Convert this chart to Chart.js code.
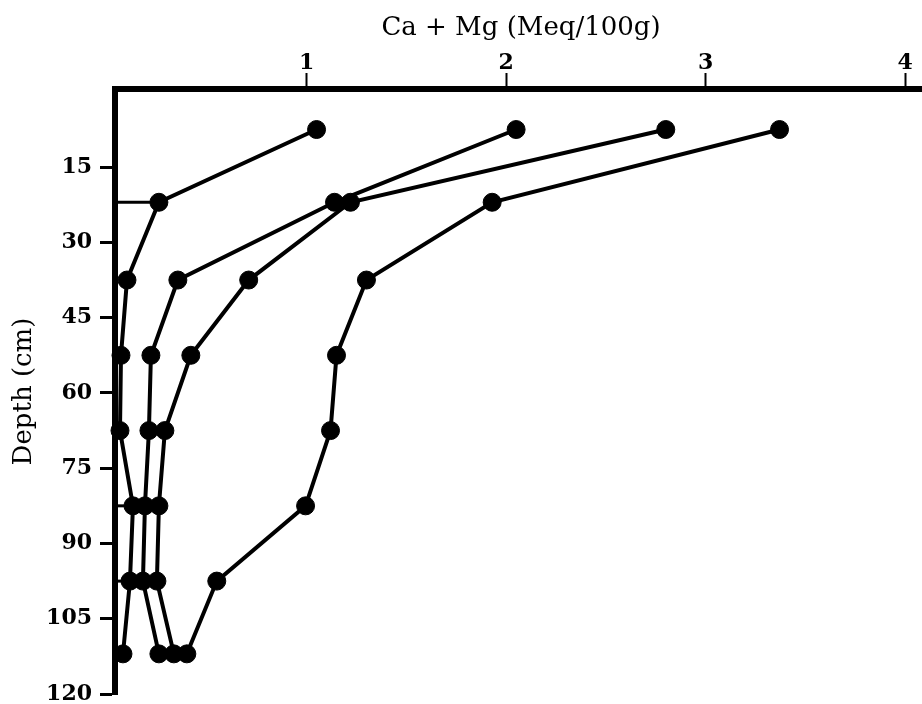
<!DOCTYPE html>
<html lang="en">
<head>
<meta charset="UTF-8" />
<title>Ca + Mg by depth</title>
<script src="https://cdn.jsdelivr.net/npm/chart.js"></script>
<style>
  body { margin: 0; background: #fff; }
  #wrap { width: 922px; height: 704px; overflow: hidden; }
</style>
</head>
<body>
<div id="wrap"><canvas id="profile" width="937" height="704"></canvas></div>
<script>
  // sample depths (cm) and Ca + Mg (meq/100g) for the four profiles
  const depths = [7.5, 22, 37.5, 52.5, 67.5, 82.5, 97.5, 112];
  const siteA = [1.05, 0.26, 0.10, 0.07, 0.065, 0.13, 0.115, 0.08];
  const siteB = [2.05, 1.14, 0.355, 0.22, 0.21, 0.19, 0.18, 0.26];
  const siteC = [2.80, 1.22, 0.71, 0.42, 0.29, 0.26, 0.25, 0.335];
  const siteD = [3.37, 1.93, 1.30, 1.15, 1.12, 0.995, 0.55, 0.40];

  // short horizontal strokes from the axis to the first profile
  const guideDepths = [22, 82.5, 97.5];
  const guideEnds = [0.26, 0.13, 0.115];

  const xTicks = [1, 2, 3, 4];
  const yTicks = [15, 30, 45, 60, 75, 90, 105, 120];

  function profile(values) {
    return values.map((v, i) => ({ x: v, y: depths[i] }));
  }

  const datasets = [siteA, siteB, siteC, siteD].map(v => ({
    data: profile(v),
    showLine: true,
    borderColor: '#000',
    backgroundColor: '#000',
    borderWidth: 4,
    pointRadius: 9,
    pointBorderWidth: 1,
    pointHoverRadius: 9,
    clip: false
  }));

  guideDepths.forEach((d, i) => {
    datasets.push({
      data: [{ x: 0.04, y: d }, { x: guideEnds[i], y: d }],
      showLine: true,
      borderColor: '#000',
      borderWidth: 3,
      pointRadius: 0
    });
  });

  const tickFont = { family: 'DejaVu Serif', weight: 'bold', size: 22 };
  const titleFont = { family: 'DejaVu Serif', size: 26 };

  new Chart(document.getElementById('profile'), {
    type: 'scatter',
    data: { datasets: datasets },
    options: {
      responsive: false,
      animation: false,
      events: [],
      layout: { padding: { bottom: 7 } },
      plugins: { legend: { display: false }, tooltip: { enabled: false } },
      scales: {
        x: {
          type: 'linear',
          position: 'top',
          min: 0.04,
          max: 4.109,
          afterBuildTicks: s => { s.ticks = xTicks.map(v => ({ value: v })); },
          afterFit: s => { s.height = 89; s.paddingLeft = 0; s.paddingRight = 0; },
          grid: { drawOnChartArea: false, drawTicks: true, tickLength: 16, tickWidth: 2, tickColor: '#000', color: '#000' },
          border: { display: true, width: 6, color: '#000' },
          ticks: { color: '#000', padding: -3, font: tickFont, autoSkip: false, maxRotation: 0 },
          title: { display: true, text: 'Ca + Mg (Meq/100g)', color: '#000', font: titleFont, padding: { top: 13, bottom: 0 } }
        },
        y: {
          type: 'linear',
          reverse: true,
          min: -0.575,
          max: 120,
          afterBuildTicks: s => { s.ticks = yTicks.map(v => ({ value: v })); },
          afterFit: s => { s.width = 115; s.paddingTop = 0; s.paddingBottom = 0; },
          grid: { drawOnChartArea: false, drawTicks: true, tickLength: 15, tickWidth: 3, tickColor: '#000', color: '#000' },
          border: { display: true, width: 6, color: '#000' },
          ticks: { color: '#000', padding: 8, font: tickFont, autoSkip: false },
          title: { display: true, text: 'Depth (cm)', color: '#000', font: titleFont, padding: { top: 9, bottom: 0 } }
        }
      }
    }
  });
</script>
</body>
</html>
